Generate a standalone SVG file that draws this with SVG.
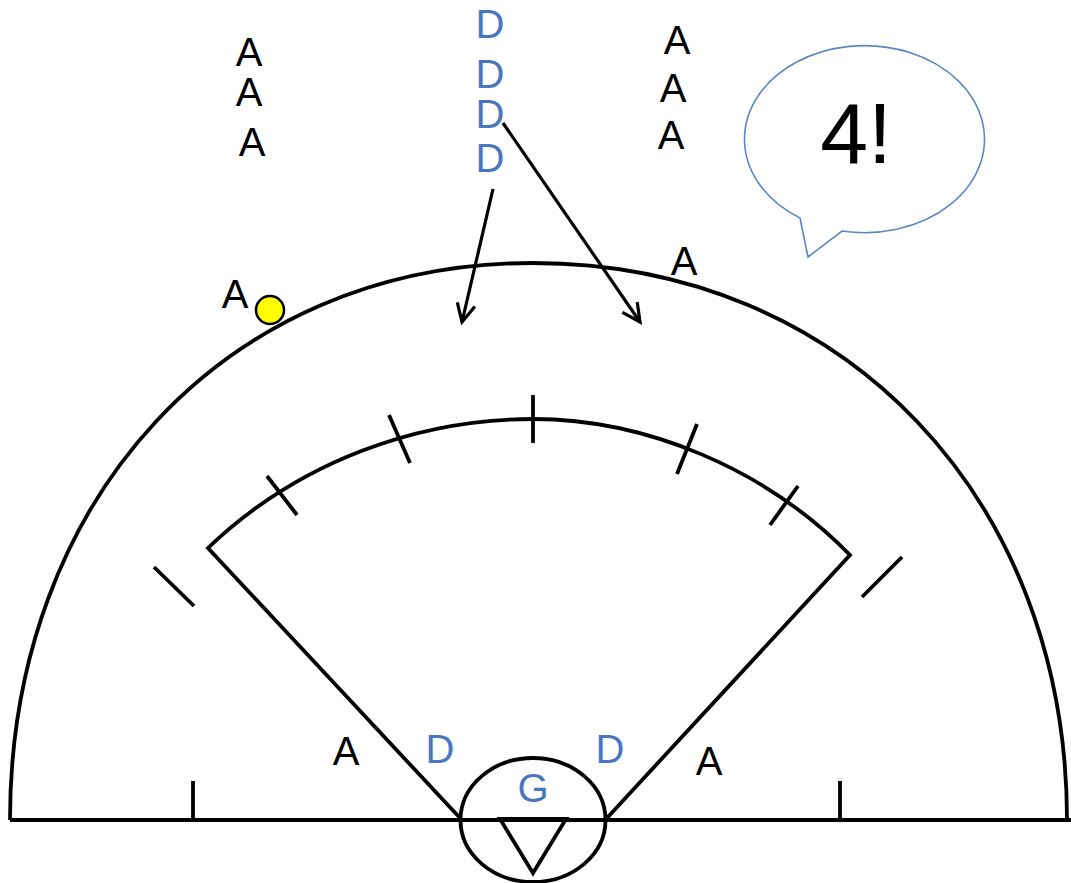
<svg xmlns="http://www.w3.org/2000/svg" width="1071" height="883" viewBox="0 0 1071 883">
  <style>
    .ln { fill: none; stroke: #000; stroke-width: 3.8; stroke-linecap: butt; stroke-linejoin: miter; }
    .tk { fill: none; stroke: #000; stroke-width: 3.8; }
    .ar { fill: none; stroke: #000; stroke-width: 3.2; }
    .ta { font-family: "Liberation Sans", Arial, sans-serif; font-size: 40px; fill: #000; text-anchor: middle; }
    .td { font-family: "Liberation Sans", Arial, sans-serif; font-size: 40px; fill: #4a76c0; text-anchor: middle; }
  </style>
  <defs>
    <marker id="vhead" markerUnits="userSpaceOnUse" markerWidth="40" markerHeight="40" viewBox="-20 -20 40 40" refX="0" refY="0" orient="auto">
      <path d="M-18,-9 L0,0 L-18,9" fill="none" stroke="#000" stroke-width="3.2"/>
    </marker>
  </defs>
  <rect width="1071" height="883" fill="#fff"/>

  <g id="field">
    <path class="ln" d="M10,820 C10,500 225,263 533,263 C845,263 1067,500 1067,820"/>
    <line class="ln" x1="10" y1="820" x2="1071" y2="820"/>
    <line class="tk" x1="193" y1="781" x2="193" y2="820"/>
    <line class="tk" x1="840" y1="781" x2="840" y2="820"/>
    <line class="tk" x1="154" y1="567" x2="194" y2="606"/>
    <line class="tk" x1="902" y1="557" x2="862" y2="597"/>
  </g>

  <g id="zone">
    <path class="ln" d="M460,818 L208,548 C300,460 420,419 533,419 C645,419 765,468 850,555 L607,818"/>
    <line class="tk" x1="267" y1="476" x2="297" y2="515"/>
    <line class="tk" x1="389" y1="415" x2="410" y2="463"/>
    <line class="tk" x1="533" y1="395" x2="533" y2="443"/>
    <line class="tk" x1="697" y1="424" x2="677" y2="474"/>
    <line class="tk" x1="798" y1="486" x2="770" y2="525"/>
  </g>

  <g id="goal">
    <ellipse class="ln" cx="533" cy="820" rx="72.5" ry="62"/>
    <polygon class="ln" points="500,819 566,819 533,873"/>
    <text class="td" x="533" y="802">G</text>
  </g>

  <g id="ball">
    <circle cx="270" cy="310" r="14" fill="#ffff00" stroke="#000" stroke-width="2.5"/>
  </g>

  <g id="bubble">
    <path d="M800,218 L808,257 L842,231 A120,93.5 0 1 0 800,218 Z" fill="#fff" stroke="#5b87c6" stroke-width="1.6" stroke-linejoin="miter"/>
    <text x="856" y="163" font-family="Liberation Sans, Arial, sans-serif" font-size="86" fill="#000" text-anchor="middle">4!</text>
  </g>

  <g id="players-top-left">
    <text class="ta" x="249" y="66">A</text>
    <text class="ta" x="249" y="106">A</text>
    <text class="ta" x="252" y="156">A</text>
  </g>
  <g id="players-top-right">
    <text class="ta" x="677" y="54">A</text>
    <text class="ta" x="673" y="102">A</text>
    <text class="ta" x="671" y="149">A</text>
  </g>
  <g id="defenders-top">
    <text class="td" x="490" y="38">D</text>
    <text class="td" x="490" y="88">D</text>
    <text class="td" x="490" y="128">D</text>
    <text class="td" x="490" y="172">D</text>
  </g>
  <g id="players-arc">
    <text class="ta" x="235" y="308">A</text>
    <text class="ta" x="684" y="275">A</text>
  </g>
  <g id="players-bottom">
    <text class="ta" x="346" y="765">A</text>
    <text class="td" x="440" y="763">D</text>
    <text class="td" x="610" y="763">D</text>
    <text class="ta" x="709" y="775">A</text>
  </g>

  <g id="connectors">
    <line class="ar" x1="493" y1="189" x2="462" y2="322" marker-end="url(#vhead)"/>
    <line class="ar" x1="503" y1="123" x2="640" y2="322" marker-end="url(#vhead)"/>
  </g>
</svg>
